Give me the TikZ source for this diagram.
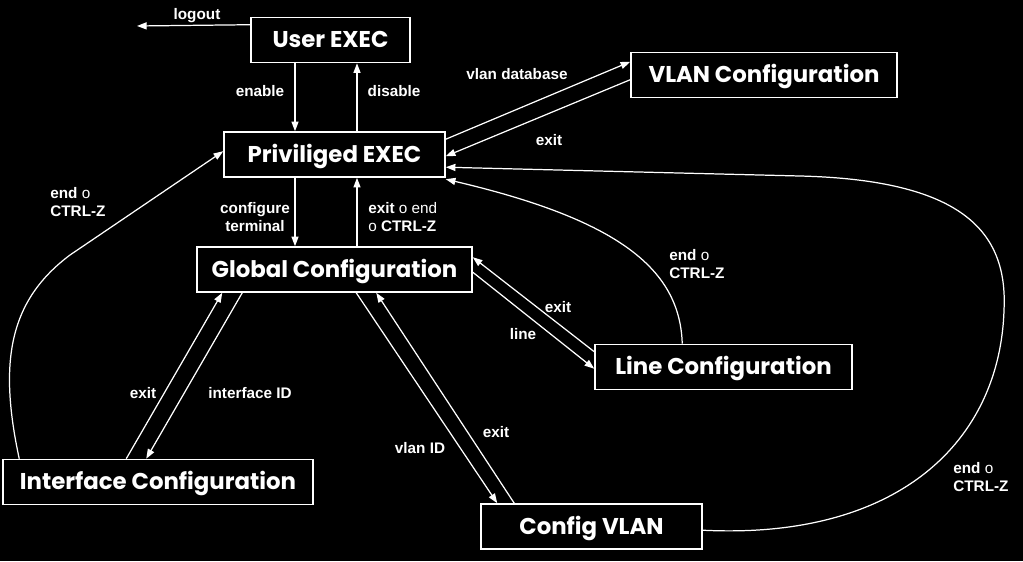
\documentclass[tikz,border=0pt]{standalone}
\usepackage{fontspec}
\setmainfont{Liberation Sans}
\newfontfamily\modefont{Poppins}
\usetikzlibrary{arrows.meta, positioning, calc}

\tikzset{
  mode/.style={draw=white, line width=0.9pt, fill=black, text=white,
    font=\modefont\bfseries\fontsize{13}{15}\selectfont,
    text height=9pt, text depth=0pt,
    minimum height=0.9cm, inner sep=0pt},
  cmd/.style={text=white, font=\bfseries\fontsize{8.7}{10}\selectfont, inner sep=0pt},
  link/.style={draw=white, line width=0.7pt, -{Triangle[length=5.5pt,width=4pt]}},
}

\begin{document}
\begin{tikzpicture}[x=0.02cm, y=-0.02cm]
  % Background
  \fill[black] (0,0) rectangle (1023,561);
  \useasboundingbox (0,0) rectangle (1023,561);

  % Modes
  \node[mode, minimum width=3.18cm] (user) at (330.5,40) {User EXEC};
  \node[mode, minimum width=4.42cm] (priv) at (334.5,154.5) {Priviliged EXEC};
  \node[mode, minimum width=5.32cm] (vlancfg) at (764,75) {VLAN Configuration};
  \node[mode, minimum width=5.5cm] (global) at (334.5,269.5) {Global Configuration};
  \node[mode, minimum width=5.14cm] (linecfg) at (723.5,367) {Line Configuration};
  \node[mode, minimum width=6.2cm] (intf) at (158,482) {Interface Configuration};
  \node[mode, minimum width=4.42cm] (cfgvlan) at (591.5,526.5) {Config VLAN};

  % Helper coordinates
  \coordinate (logoutend) at (137,26);
  \coordinate (lx) at (295,0);
  \coordinate (rx) at (357,0);

  % Connectors
  \draw[link] ($(user.north west)+(0,8)$) -- (logoutend);
  \draw[link] (lx |- user.south) -- (lx |- priv.north);
  \draw[link] (rx |- priv.north) -- (rx |- user.south);
  \draw[link] (lx |- priv.south) -- (lx |- global.north);
  \draw[link] (rx |- global.north) -- (rx |- priv.south);

  \draw[link] ($(priv.north east)+(0,8)$) -- ($(vlancfg.north west)+(0,10)$);
  \draw[link] ($(vlancfg.north west)+(0,28)$) -- ($(priv.north east)+(0,25)$);
  \draw[link] ($(cfgvlan.north east)+(0,27)$) .. controls (900,540) and (1000,440) .. (1004,310)
    .. controls (1008,230) and (960,180) .. (800,176) -- ($(priv.north east)+(0,36)$);
  \draw[link] ($(linecfg.north west)+(88,0)$) .. controls (680,270) and (620,220) .. ($(priv.north east)+(0,48)$);
  \draw[link] ($(intf.north west)+(17,0)$) .. controls (-2,360) and (10,300) .. (70,255)
    -- ($(priv.north west)+(0,20)$);

  \draw[link] ($(global.north east)+(0,26)$) -- ($(linecfg.north west)+(0,25)$);
  \draw[link] ($(linecfg.north west)+(0,8)$) -- ($(global.north east)+(0,11)$);
  \draw[link] ($(intf.north west)+(124,0)$) -- ($(global.south west)+(26,0)$);
  \draw[link] ($(global.south west)+(46,0)$) -- ($(intf.north west)+(144,0)$);
  \draw[link] ($(global.south west)+(160,0)$) -- ($(cfgvlan.north west)+(17,0)$);
  \draw[link] ($(cfgvlan.north west)+(34,0)$) -- ($(global.south west)+(180,0)$);

  % Commands
  \node[cmd] (logoutlbl) at (197,16) {logout};
  \node[cmd] (enablelbl) at (260,91) {enable};
  \node[cmd] (disablelbl) at (394,91) {disable};
  \node[cmd] (vlandblbl) at (517,74) {vlan database};
  \node[cmd] (vlanexitlbl) at (549,140) {exit};
  \node[cmd, anchor=west, align=left] (intfendlbl) at (50,202) {end {\mdseries o}\\CTRL-Z};
  \node[cmd, align=center] (conftlbl) at (255,217) {configure\\terminal};
  \node[cmd, anchor=west, align=left] (globexitlbl) at (368,217) {exit {\mdseries o end}\\{\mdseries o} CTRL-Z};
  \node[cmd, anchor=west, align=left] (lineendlbl) at (669,264) {end {\mdseries o}\\CTRL-Z};
  \node[cmd] (lineexitlbl) at (558,307) {exit};
  \node[cmd] (linelbl) at (523,334) {line};
  \node[cmd] (intfexitlbl) at (143,393) {exit};
  \node[cmd] (intfidlbl) at (250,393) {interface ID};
  \node[cmd] (vlanidlbl) at (420,448) {vlan ID};
  \node[cmd] (cfgexitlbl) at (496,432) {exit};
  \node[cmd, anchor=west, align=left] (cfgendlbl) at (953,477) {end {\mdseries o}\\CTRL-Z};
\end{tikzpicture}
\end{document}
